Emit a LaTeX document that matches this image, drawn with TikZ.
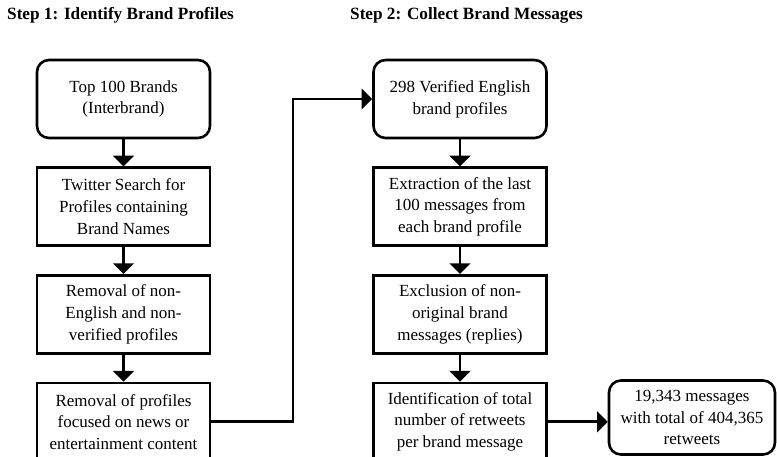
\documentclass[tikz,border=0pt]{standalone}
\usepackage{fontspec}
\setmainfont{Liberation Serif}
\usetikzlibrary{positioning,arrows}

\begin{document}
\begin{tikzpicture}[
      x=1pt, y=-1pt,
      font=\fontsize{17}{21.7}\selectfont,
      box/.style={
        draw,
        line width=2.6pt,
        align=center,
        minimum width=173pt,
        minimum height=78pt,
        inner sep=2pt
      },
      roundbox/.style={
        box,
        rounded corners=12pt
      },
      titre/.style={
        anchor=west,
        font=\fontsize{17.2}{20}\selectfont\bfseries,
        inner sep=0pt
      },
      arr/.style={
        ->,
        >=triangle 90,
        line width=2.8pt
      }
    ]
    \useasboundingbox (0,0) rectangle (777,456);

    \node[titre] (stepone) at (7,15) {Step 1: Identify Brand Profiles} ;
    \node[titre] (steptwo) at (350,15) {Step 2: Collect Brand Messages} ;

    % step 1
    \node[roundbox] (brands) at (123.5,99) {Top 100 Brands\\(Interbrand)} ;
    \node[box, below=27pt of brands] (search) {Twitter Search for\\Profiles containing\\Brand Names} ;
    \node[box, below=27pt of search] (english) {Removal of non-\\English and non-\\verified profiles} ;
    \node[box, below=27pt of english] (news) {Removal of profiles\\focused on news or\\entertainment content} ;

    % step 2
    \node[roundbox] (verified) at (460,99) {298 Verified English\\brand profiles} ;
    \node[box, below=27pt of verified] (extract) {Extraction of the last\\100 messages from\\each brand profile} ;
    \node[box, below=27pt of extract] (exclude) {Exclusion of non-\\original brand\\messages (replies)} ;
    \node[box, below=27pt of exclude] (retweets) {Identification of total\\number of retweets\\per brand message} ;
    \node[roundbox, minimum width=166pt, minimum height=74pt] (total) at (692,417.5) {19,343 messages\\with total of 404,365\\retweets} ;

    \coordinate (turn) at (293,0) ;

	\draw[arr] (brands) -- (search) ;
	\draw[arr] (search) -- (english) ;
	\draw[arr] (english) -- (news) ;
	\draw[arr] (news.east) -- (news.east -| turn) |- (verified.west) ;
	\draw[arr] (verified) -- (extract) ;
	\draw[arr] (extract) -- (exclude) ;
	\draw[arr] (exclude) -- (retweets) ;
	\draw[arr] (retweets.east) -- (retweets.east -| total.west) ;
  \end{tikzpicture}
\end{document}
